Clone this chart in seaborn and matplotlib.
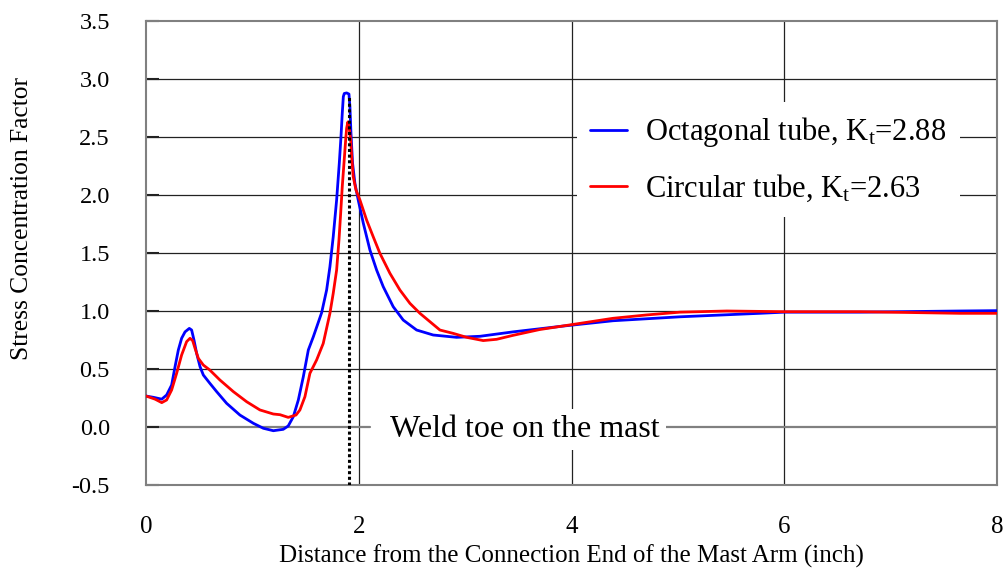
import matplotlib
matplotlib.use("Agg")
import matplotlib.pyplot as plt
import pandas as pd
import seaborn as sns

# Stress concentration factor along the mast arm (distance in inches)
octagonal_x = [0.00, 0.069, 0.148, 0.194, 0.241, 0.273, 0.304, 0.335, 0.367, 0.407,
               0.429, 0.451, 0.476, 0.508, 0.539, 0.60, 0.664, 0.758, 0.883, 1.009,
               1.103, 1.197, 1.29, 1.337, 1.385, 1.432, 1.479, 1.526, 1.573, 1.651,
               1.698, 1.729, 1.76, 1.792, 1.817, 1.833, 1.845, 1.855, 1.864, 1.886,
               1.908, 1.917, 1.927, 1.942, 1.964, 1.995, 2.043, 2.105, 2.168, 2.23,
               2.324, 2.418, 2.544, 2.70, 2.92, 3.14, 3.45, 3.92, 4.39, 5.02,
               5.77, 6.00, 6.71, 7.65, 8.00]
octagonal_y = [0.267, 0.256, 0.24, 0.276, 0.362, 0.52, 0.664, 0.765, 0.82, 0.85,
               0.836, 0.75, 0.635, 0.52, 0.448, 0.377, 0.305, 0.204, 0.103, 0.032,
               -0.011, -0.032, -0.02, 0.009, 0.089, 0.233, 0.434, 0.664, 0.778, 0.985,
               1.181, 1.382, 1.64, 1.957, 2.273, 2.503, 2.704, 2.848, 2.875, 2.88,
               2.87, 2.76, 2.53, 2.273, 2.10, 1.957, 1.756, 1.526, 1.353, 1.21,
               1.037, 0.922, 0.836, 0.793, 0.773, 0.782, 0.82, 0.87, 0.916, 0.95,
               0.98, 0.99, 0.99, 1.00, 1.003]

circular_x = [0.00, 0.085, 0.148, 0.194, 0.241, 0.288, 0.335, 0.382, 0.414, 0.439,
              0.461, 0.492, 0.539, 0.60, 0.695, 0.821, 0.946, 1.071, 1.197, 1.26,
              1.337, 1.41, 1.447, 1.494, 1.541, 1.604, 1.666, 1.729, 1.76, 1.792,
              1.814, 1.83, 1.845, 1.861, 1.877, 1.886, 1.898, 1.911, 1.924, 1.936,
              1.948, 1.974, 2.011, 2.074, 2.136, 2.199, 2.293, 2.387, 2.481, 2.575,
              2.669, 2.763, 2.888, 3.014, 3.17, 3.296, 3.45, 3.70, 3.985, 4.39,
              4.706, 5.02, 5.46, 6.00, 6.71, 7.65, 8.00]
circular_y = [0.267, 0.24, 0.21, 0.233, 0.319, 0.463, 0.621, 0.736, 0.765, 0.744,
              0.678, 0.592, 0.534, 0.491, 0.405, 0.305, 0.218, 0.147, 0.112, 0.106,
              0.083, 0.103, 0.147, 0.261, 0.463, 0.578, 0.72, 0.98, 1.152, 1.353,
              1.612, 1.842, 2.072, 2.273, 2.474, 2.575, 2.63, 2.575, 2.474, 2.30,
              2.158, 2.043, 1.957, 1.784, 1.64, 1.497, 1.325, 1.181, 1.066, 0.98,
              0.908, 0.836, 0.807, 0.773, 0.745, 0.756, 0.79, 0.84, 0.88, 0.937,
              0.966, 0.99, 1.00, 0.994, 0.994, 0.98, 0.98]

series_labels = [r"Octagonal tube, K$_{\mathrm{t}}$=2.88",
                 r"Circular tube, K$_{\mathrm{t}}$=2.63"]
series_colors = ["#0000ff", "#ff0000"]

weld_toe_x = 1.91
weld_toe_top = 2.85
weld_toe_label = "Weld toe on the mast"

x_ticks = [0, 2, 4, 6, 8]
y_ticks = [-0.5, 0.0, 0.5, 1.0, 1.5, 2.0, 2.5, 3.0, 3.5]
y_tick_labels = ["-0.5", "0.0", "0.5", "1.0", "1.5", "2.0", "2.5", "3.0", "3.5"]
x_label = "Distance from the Connection End of the Mast Arm (inch)"
y_label = "Stress Concentration Factor"

sns.set_theme(style="white")
plt.rcParams["font.family"] = ["Liberation Serif", "DejaVu Serif"]
plt.rcParams["mathtext.fontset"] = "custom"
plt.rcParams["mathtext.rm"] = "Liberation Serif"
plt.rcParams["mathtext.it"] = "Liberation Serif:italic"
plt.rcParams["mathtext.bf"] = "Liberation Serif:bold"
for key in ("text.color", "axes.labelcolor", "xtick.labelcolor", "ytick.labelcolor"):
    plt.rcParams[key] = "black"

df = pd.concat([
    pd.DataFrame({"x": octagonal_x, "y": octagonal_y, "tube": series_labels[0]}),
    pd.DataFrame({"x": circular_x, "y": circular_y, "tube": series_labels[1]}),
], ignore_index=True)

fig = plt.figure(figsize=(10.04, 5.79), dpi=100)
ax = fig.add_axes([146 / 1004, 1 - 485 / 579, 851 / 1004, 464 / 579])

# grid
grid_kw = dict(color="#222222", lw=0.9, zorder=0)
for yv in y_ticks[2:-1]:
    ax.axhline(yv, **grid_kw)
for xv in x_ticks[1:-1]:
    ax.axvline(xv, **grid_kw)
# zero line, broken where the annotation sits
ax.axhline(0.0, xmin=0, xmax=2.105 / 8, color="#808080", lw=1.6, zorder=0)
ax.axhline(0.0, xmin=4.878 / 8, xmax=1, color="#808080", lw=1.6, zorder=0)

sns.lineplot(data=df, x="x", y="y", hue="tube", palette=series_colors,
             sort=False, estimator=None, lw=2.0, legend=False, ax=ax, zorder=3)

# weld toe marker
ax.plot([weld_toe_x, weld_toe_x], [-0.5, weld_toe_top], color="black",
        lw=2.2, linestyle=(0, (1, 0.85)), dash_capstyle="butt", zorder=4)
ax.text(2.29, -0.086, weld_toe_label, fontsize=23, ha="left", va="baseline",
        zorder=2, bbox=dict(boxstyle="square,pad=0.2", fc="white", ec="none"))

ax.set_xlim(0, 8)
ax.set_ylim(-0.5, 3.5)
ax.set_xticks(x_ticks)
ax.set_xticklabels([str(v) for v in x_ticks], fontsize=18)
ax.set_yticks(y_ticks)
ax.set_yticklabels(y_tick_labels, fontsize=17.5)
ax.tick_params(axis="y", direction="in", length=9, width=1.5, color="#222222",
               pad=26, left=True)
ax.tick_params(axis="x", length=0, pad=22)

for s in ax.spines.values():
    s.set_color("#808080")
    s.set_linewidth(1.5)
    s.set_visible(True)

ax.set_xlabel(x_label, fontsize=18)
ax.set_ylabel(y_label, fontsize=18.4)
ax.xaxis.set_label_coords(0.5, -0.153)
ax.xaxis.label.set_verticalalignment("center")
ax.yaxis.set_label_coords(-0.1457, 0.575)
ax.yaxis.label.set_verticalalignment("center")

handles = [plt.Line2D([], [], color=c, lw=2.0) for c in series_colors]
leg = ax.legend(handles, series_labels, loc="upper left",
                bbox_to_anchor=(0.506, 0.826), borderaxespad=0,
                fontsize=22, frameon=True, fancybox=False, framealpha=1,
                facecolor="white", edgecolor="none", handlelength=1.2,
                handletextpad=0.6, labelspacing=0.75, borderpad=0.45)
leg.set_zorder(5)

fig.savefig("out.png", dpi=100)
